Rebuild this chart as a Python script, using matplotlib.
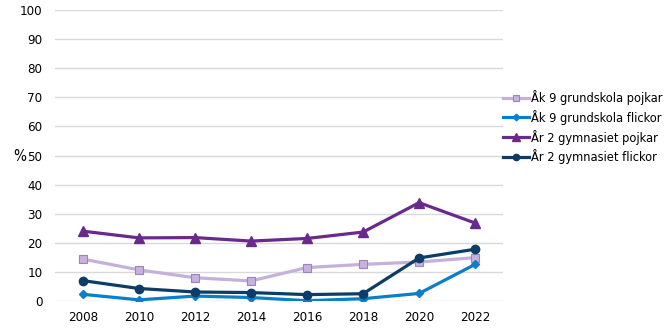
import matplotlib
matplotlib.use("Agg")
import matplotlib.pyplot as plt

years = [2008, 2010, 2012, 2014, 2016, 2018, 2020, 2022]
ak9_pojkar = [14.4, 10.7, 8.0, 6.9, 11.5, 12.6, 13.4, 14.9]
ak9_flickor = [2.3, 0.4, 1.7, 1.2, 0.1, 0.8, 2.6, 12.6]
ar2_pojkar = [24.0, 21.7, 21.8, 20.6, 21.5, 23.7, 33.8, 26.8]
ar2_flickor = [7.0, 4.3, 3.1, 2.9, 2.2, 2.5, 14.8, 17.8]
labels = ["Åk 9 grundskola pojkar", "Åk 9 grundskola flickor",
          "År 2 gymnasiet pojkar", "År 2 gymnasiet flickor"]

plt.rcParams['font.family'] = ['DejaVu Sans']
plt.rcParams['font.stretch'] = 'condensed'
fig = plt.figure(figsize=(6.7, 3.31), dpi=100)
ax = fig.add_axes([0.082, 0.0906, 0.669, 0.879])

ax.plot(years, ak9_pojkar, color="#C3B1DA", lw=2.3, marker="s", ms=6.2,
        mfc="#C6B2DC", mec="#9F80C0", mew=0.8, label=labels[0], zorder=3)
ax.plot(years, ak9_flickor, color="#0A7FC9", lw=2.3, marker="D", ms=4.5,
        mfc="#0A7FC9", mec="#0A7FC9", label=labels[1], zorder=3)
ax.plot(years, ar2_pojkar, color="#6A2A8A", lw=2.3, marker="^", ms=7,
        mfc="#6A2A8A", mec="#6A2A8A", label=labels[2], zorder=3)
ax.plot(years, ar2_flickor, color="#0C3D66", lw=2.3, marker="o", ms=6,
        mfc="#0C3D66", mec="#0C3D66", label=labels[3], zorder=4)

ax.set_xlim(2007, 2023)
ax.set_ylim(0, 100)
ax.set_yticks(range(0, 101, 10))
ax.set_xticks(years)
ax.grid(axis="y", color="#D9D9D9", lw=1)
ax.set_axisbelow(True)
for s in ax.spines.values():
    s.set_visible(False)
ax.tick_params(length=0, labelsize=9.5, colors="#000000")
ax.tick_params(axis="y", pad=9)
ax.tick_params(axis="x", pad=7)
fig.text(13/670, 1-157/331, "%", fontsize=11, ha="left", va="center")

fig.legend(loc="upper left", bbox_to_anchor=(0.750, 0.728), frameon=False,
           fontsize=9.2, handlelength=2.1, handletextpad=0.1, labelspacing=0.38,
           markerscale=0.75, borderaxespad=0, borderpad=0)

fig.savefig("out.png", dpi=100)
